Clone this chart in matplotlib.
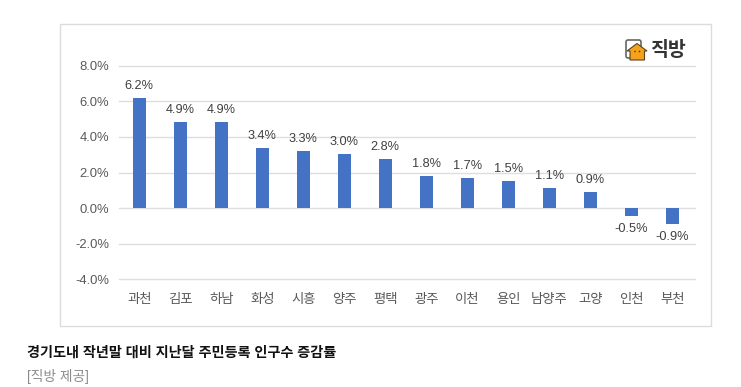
import matplotlib
matplotlib.use("Agg")
import matplotlib.pyplot as plt
from matplotlib.patches import Rectangle, Polygon, Circle, FancyBboxPatch

plt.rcParams['font.family'] = ['Liberation Sans', 'Noto Sans CJK KR', 'DejaVu Sans']

categories = ['과천', '김포', '하남', '화성', '시흥', '양주', '평택', '광주', '이천', '용인', '남양주', '고양', '인천', '부천']
values = [6.2, 4.85, 4.85, 3.38, 3.22, 3.03, 2.78, 1.82, 1.7, 1.52, 1.14, 0.92, -0.42, -0.87]
labels = ['6.2%', '4.9%', '4.9%', '3.4%', '3.3%', '3.0%', '2.8%', '1.8%', '1.7%', '1.5%', '1.1%', '0.9%', '-0.5%', '-0.9%']
yticks = [-4, -2, 0, 2, 4, 6, 8]
title = '경기도내 작년말 대비 지난달 주민등록 인구수 증감률'
source = '[직방 제공]'

W, H = 741, 387
fig = plt.figure(figsize=(W / 100, H / 100), dpi=100, facecolor='white')

bg = fig.add_axes([0, 0, 1, 1])
bg.set_xlim(0, W)
bg.set_ylim(H, 0)
bg.axis('off')
bg.add_patch(Rectangle((59.5, 23.5), 651.5, 302.5, fc='white', ec='#dcdcdc', lw=1))

# Logo
bg.add_patch(FancyBboxPatch((626, 40), 15, 18, boxstyle='round,pad=0,rounding_size=2', fc='white', ec='#666666', lw=1.2))
bg.add_patch(Polygon([[627, 51], [637, 43.5], [647, 51], [644.5, 51], [644.5, 60], [630, 60], [630, 51]], closed=True, fc='#f5a11c', ec='#5a4520', lw=0.8))
bg.add_patch(Circle((635, 51.5), 0.8, fc='#4a3a20', ec='none'))
bg.add_patch(Circle((639.5, 51.5), 0.8, fc='#4a3a20', ec='none'))
bg.text(668, 50, '직방', fontsize=14, fontweight='bold', color='#333333', ha='center', va='center')

# Caption
bg.text(27, 353, title, fontsize=10.2, fontweight='bold', color='#111111', ha='left', va='center')
bg.text(27, 376, source, fontsize=9.9, color='#8a8a8a', ha='left', va='center')

# Chart
left, right, top, bot = 118.8, 695, 65.8, 279.2
ax = fig.add_axes([left / W, 1 - bot / H, (right - left) / W, (bot - top) / H])
ax.patch.set_alpha(0)
x = list(range(len(categories)))
ax.set_axisbelow(True)
ax.yaxis.grid(True, color='#dedede', lw=1, clip_on=False)
ax.bar(x, values, width=0.32, color='#4472c4', zorder=3)
ax.set_xlim(-0.5, len(categories) - 0.45)
ax.set_ylim(-4, 8)
ax.set_yticks(yticks)
ax.set_yticklabels([f'{v:.1f}%' for v in yticks], fontsize=9.4, color='#595959')
ax.set_xticks(x)
ax.set_xticklabels(categories, fontsize=9.6, color='#595959')
ax.tick_params(length=0)
ax.tick_params(axis='y', pad=7)
ax.tick_params(axis='x', pad=10.7)
for s in ax.spines.values():
    s.set_visible(False)
for xi, v, t in zip(x, values, labels):
    offset = 6 if v >= 0 else -7
    ax.annotate(t, (xi, v), xytext=(0, offset), textcoords='offset pixels',
                ha='center', va='bottom' if v >= 0 else 'top', fontsize=9.2, color='#404040', zorder=4)

fig.savefig('out.png', dpi=100)
